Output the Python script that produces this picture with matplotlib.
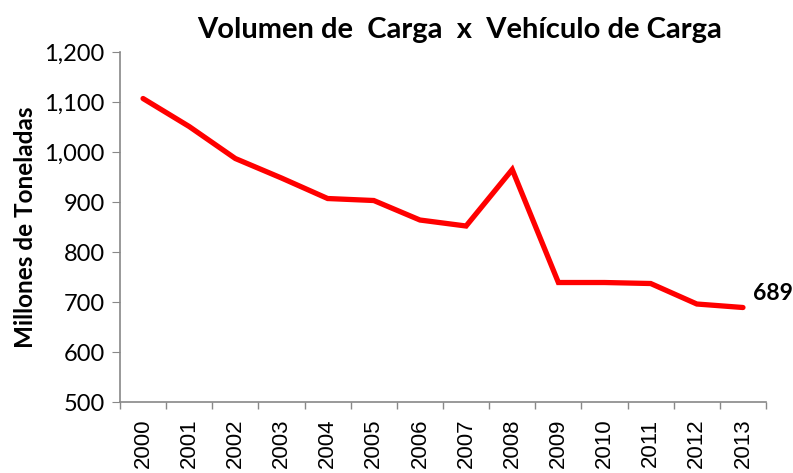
import matplotlib.pyplot as plt
from matplotlib.ticker import FuncFormatter

years = ['2000', '2001', '2002', '2003', '2004', '2005', '2006',
         '2007', '2008', '2009', '2010', '2011', '2012', '2013']
volumen = [1107, 1051, 987, 948, 907, 903, 864, 852, 965, 739, 739, 737, 696, 689]

plt.rcParams['font.family'] = ['Lato', 'DejaVu Sans']

fig = plt.figure(figsize=(7.93, 4.73), dpi=100)
ax = fig.add_axes([0.1513, 0.1501, 0.8147, 0.7399])

x = list(range(len(years)))
ax.plot(x, volumen, color='#ff0000', lw=3.8, solid_capstyle='round', solid_joinstyle='miter')

ax.set_ylim(500, 1200)
ax.set_yticks(range(500, 1201, 100))
ax.yaxis.set_major_formatter(FuncFormatter(lambda v, p: f'{int(v):,}'))
ax.set_xlim(-0.5, len(years) - 0.5)
ax.set_xticks(x)
ax.set_xticklabels(years, rotation=90, fontsize=16, fontfamily='Liberation Sans')
ax.set_xticks([i - 0.5 for i in range(len(years) + 1)], minor=True)
ax.tick_params(axis='x', which='major', length=0, pad=12)
ax.tick_params(axis='x', which='minor', length=5, color='#888888', width=1)
ax.tick_params(axis='y', length=6, color='#888888', labelsize=17, pad=5)

for s in ['top', 'right']:
    ax.spines[s].set_visible(False)
for s in ['left', 'bottom']:
    ax.spines[s].set_color('#888888')
    ax.spines[s].set_linewidth(1.2)

ax.set_ylabel('Millones de Toneladas', fontsize=17.5, fontweight='bold', labelpad=5)
ax.set_title('Volumen de  Carga  x  Vehículo de Carga', fontsize=21, fontweight='bold',
             x=0.525, pad=10)

ax.annotate(f'{volumen[-1]}', (x[-1], volumen[-1]), xytext=(7, 10), textcoords='offset points',
            fontsize=16.5, fontweight='bold', va='center', ha='left', annotation_clip=False)

fig.savefig('out.png', dpi=100)
